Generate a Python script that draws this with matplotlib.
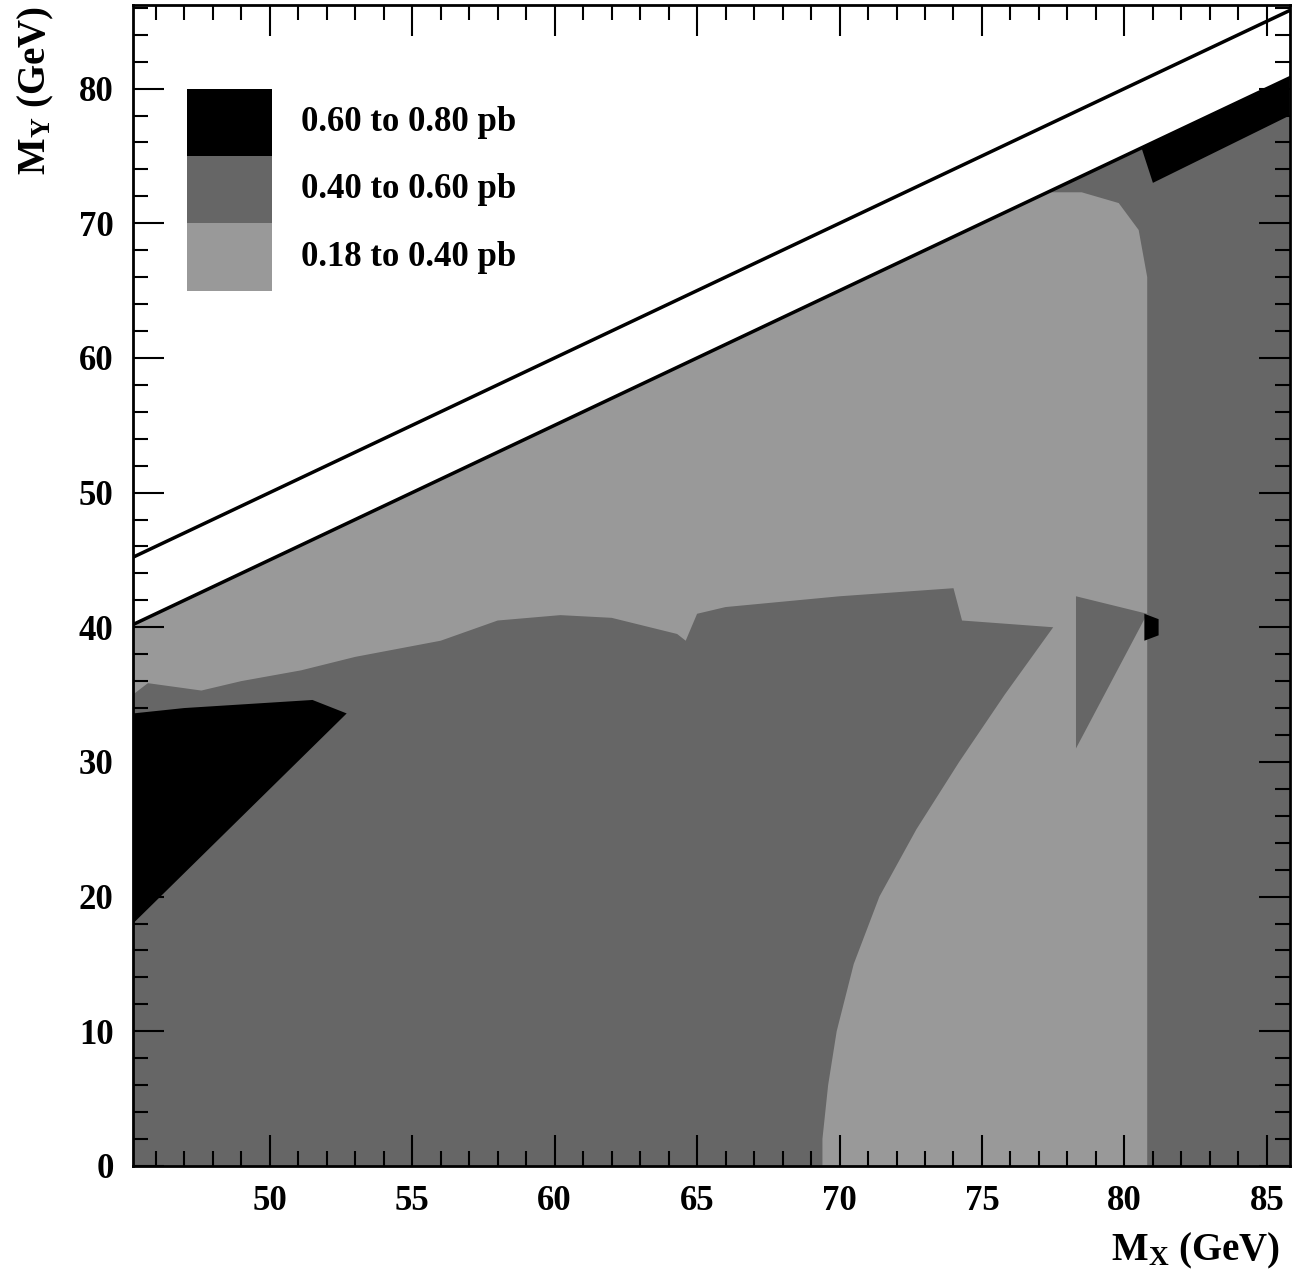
import matplotlib.pyplot as plt
from matplotlib.patches import Polygon, Rectangle
from matplotlib.ticker import MultipleLocator

plt.rcParams['font.family'] = ['Liberation Serif', 'DejaVu Serif']
plt.rcParams['mathtext.fontset'] = 'custom'
plt.rcParams['mathtext.rm'] = 'Liberation Serif:bold'
plt.rcParams['mathtext.bf'] = 'Liberation Serif:bold'
plt.rcParams['mathtext.it'] = 'Liberation Serif:bold'

x_min, x_max = 45.2, 85.8
y_min, y_max = 0, 86.2

# kinematic limits: M_Y = M_X and M_Y = M_X - 5
line_offsets = [0, -5]

# region boundaries (M_X, M_Y)
light_x = [45.2, 77.3, 78.5, 79.8, 80.5, 80.8, 80.8, 69.4, 69.4, 69.6, 69.9, 70.5, 71.4, 72.7, 74.2, 75.8, 77.5,
           74.3, 74.0, 70.0, 66.0, 65.0, 64.6, 64.3, 62.0, 60.2, 58.0, 56.0, 53.0, 51.1, 49.0, 47.6, 45.2]
light_y = [40.2, 72.3, 72.3, 71.5, 69.5, 66.0, 0.0, 0.0, 2.0, 6.0, 10.0, 15.0, 20.0, 25.0, 30.0, 35.0, 40.0,
           40.5, 42.9, 42.3, 41.5, 41.0, 39.0, 39.5, 40.7, 40.9, 40.5, 39.0, 37.8, 36.8, 36.0, 35.3, 36.0]
streak_x = [45.2, 50.0, 46.0, 45.2]
streak_y = [36.5, 38.7, 36.3, 35.0]
black_x = [45.2, 45.2, 47.0, 51.5, 52.7]
black_y = [18.0, 33.6, 34.0, 34.6, 33.6]
tri_x = [78.3, 80.8, 78.3]
tri_y = [42.3, 41.0, 31.0]
blob_x = [80.7, 81.2, 81.2, 80.7]
blob_y = [39.0, 39.4, 40.6, 41.0]
corner_x = [80.6, 85.8, 85.8, 81.0]
corner_y = [75.6, 80.8, 78.0, 73.0]

legend_labels = ['0.60 to 0.80 pb', '0.40 to 0.60 pb', '0.18 to 0.40 pb']
legend_colors = ['#000000', '#666666', '#999999']

fig = plt.figure(figsize=(13.04, 12.77), dpi=100)
ax = fig.add_axes([0.102, 0.087, 0.887, 0.909])
ax.set_xlim(x_min, x_max)
ax.set_ylim(y_min, y_max)

# allowed region, dark grey background
ax.add_patch(Polygon([(x_min, 0), (x_max, 0), (x_max, x_max - 5), (x_min, x_min - 5)],
                     closed=True, fc='#666666', ec='none'))
ax.add_patch(Polygon(list(zip(light_x, light_y)), closed=True, fc='#999999', ec='none'))
ax.add_patch(Polygon(list(zip(streak_x, streak_y)), closed=True, fc='#999999', ec='none'))
for px, py, c in [(black_x, black_y, '#000000'), (tri_x, tri_y, '#666666'),
                  (blob_x, blob_y, '#000000'), (corner_x, corner_y, '#000000')]:
    ax.add_patch(Polygon(list(zip(px, py)), closed=True, fc=c, ec='none'))

for off in line_offsets:
    ax.plot([x_min, x_max], [x_min + off, x_max + off], color='black', lw=2.5)

# legend boxes
for i, (lab, c) in enumerate(zip(legend_labels, legend_colors)):
    y0 = 0.928 - i * 0.058
    ax.add_patch(Rectangle((0.047, y0 - 0.058), 0.073, 0.058, transform=ax.transAxes,
                           fc=c, ec='none'))
    ax.text(0.145, y0 - 0.029, lab, transform=ax.transAxes, fontsize=25, fontweight='bold',
            va='center', ha='left')

ax.xaxis.set_major_locator(MultipleLocator(5))
ax.xaxis.set_minor_locator(MultipleLocator(1))
ax.yaxis.set_major_locator(MultipleLocator(10))
ax.yaxis.set_minor_locator(MultipleLocator(2))
ax.tick_params(which='both', direction='in', top=True, right=True, width=1.5)
ax.tick_params(which='major', length=22, labelsize=25, pad=14)
ax.tick_params(which='minor', length=11)
for lab in ax.get_xticklabels() + ax.get_yticklabels():
    lab.set_fontweight('bold')
for s in ax.spines.values():
    s.set_linewidth(2)

fig.text(0.982, 0.005, r'M$_{\mathrm{X}}$ (GeV)', ha='right', va='bottom', fontsize=28, fontweight='bold')
fig.text(0.012, 0.995, r'M$_{\mathrm{Y}}$ (GeV)', ha='left', va='top', rotation=90, fontsize=28,
         fontweight='bold')

fig.savefig('out.png', dpi=100)
